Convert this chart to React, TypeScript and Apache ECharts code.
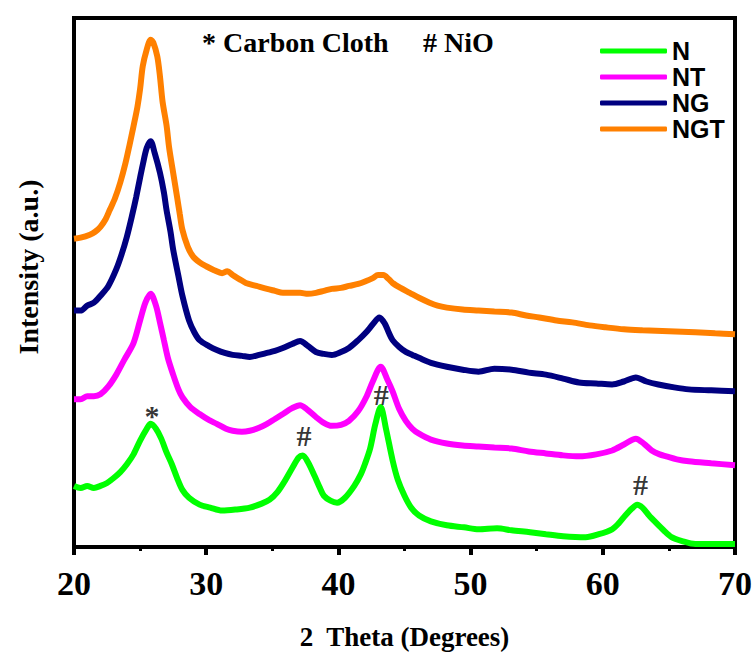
import React, { useEffect, useRef } from "react";
import * as echarts from "echarts";

const seriesNames = ["N", "NT", "NG", "NGT"];
const seriesColors = ["#00FF00", "#FF00FF", "#000080", "#FF8000"];

const dataN = [[20.0,62],[20.5,60],[21.0,62],[21.5,60],[22.0,62],[22.5,65],[23.0,70],[23.5,76],[24.0,84],[24.5,94],[25.0,108],[25.5,120],[25.8,125],[26.2,120],[26.6,110],[27.0,96],[27.4,84],[27.8,70],[28.2,58],[28.7,50],[29.5,43],[30.3,40],[31.2,37],[32.2,38],[33.3,40],[34.2,44],[34.8,48],[35.4,56],[35.9,66],[36.5,80],[37.0,91],[37.3,93],[37.7,86],[38.2,72],[38.6,60],[38.9,52],[39.4,47],[39.9,45],[40.5,50],[41.2,62],[41.7,74],[42.0,84],[42.4,100],[42.8,125],[43.2,142],[43.6,120],[44.1,88],[44.5,68],[45.0,52],[45.5,40],[46.1,32],[47.0,26],[48.2,22],[49.5,20],[50.6,18],[52.0,19],[53.1,17],[54.5,15],[55.7,13],[57.0,11],[58.7,10],[59.7,13],[60.7,18],[61.2,24],[61.7,32],[62.2,39],[62.6,43],[63.0,40],[63.5,32],[64.0,25],[64.6,17],[65.2,10],[66.0,6],[67.0,3],[68.5,3],[70.0,3]];

const dataNT = [[20.0,150],[20.5,150],[21.0,153],[21.5,153],[22.0,155],[22.6,163],[23.2,175],[23.8,190],[24.5,207],[25.0,230],[25.4,248],[25.8,257],[26.2,245],[26.5,228],[26.8,210],[27.1,192],[27.5,175],[27.9,160],[28.2,152],[28.8,142],[29.5,135],[30.2,129],[30.8,125],[31.5,120],[32.0,118],[32.7,117],[33.3,118],[34.0,121],[34.6,125],[35.2,130],[35.8,135],[36.5,141],[37.1,144],[37.6,140],[38.3,132],[38.9,126],[39.5,123],[40.2,124],[40.8,128],[41.5,138],[42.1,152],[42.6,168],[43.2,183],[43.7,170],[44.1,158],[44.6,140],[45.1,128],[45.6,120],[46.1,115],[47.0,109],[48.2,105],[49.4,103],[50.6,102],[51.8,101],[53.1,100],[54.4,97],[55.7,95],[57.0,93],[58.2,92],[59.5,94],[60.7,98],[61.6,104],[62.5,110],[63.1,105],[63.7,98],[64.3,94],[64.8,92],[65.6,89],[66.5,87],[68.2,85],[70.0,83]];

const dataNG = [[20.0,240],[20.5,240],[21.0,245],[21.5,248],[22.0,255],[22.6,265],[23.2,282],[23.6,297],[24.0,315],[24.4,337],[24.7,355],[25.0,375],[25.2,388],[25.5,405],[25.8,412],[26.1,400],[26.5,380],[26.8,360],[27.0,342],[27.3,320],[27.5,302],[27.9,275],[28.2,255],[28.7,230],[29.1,218],[29.5,210],[30.2,204],[30.8,200],[31.4,197],[32.0,195],[32.7,194],[33.3,193],[34.0,195],[34.6,197],[35.2,199],[35.8,202],[36.5,206],[37.1,209],[37.7,204],[38.3,198],[38.9,196],[39.5,195],[40.2,198],[40.8,202],[41.5,210],[42.1,218],[42.6,226],[43.1,233],[43.5,227],[43.8,218],[44.1,210],[44.6,203],[45.1,198],[45.6,195],[46.1,192],[47.0,187],[48.2,183],[49.4,180],[50.6,178],[51.8,181],[53.1,180],[54.4,177],[55.7,175],[57.0,171],[58.2,167],[59.5,166],[60.7,165],[61.6,168],[62.5,172],[63.3,168],[64.2,165],[65.4,162],[66.5,160],[68.2,159],[70.0,158]];

const dataNGT = [[20.0,313],[20.5,314],[21.2,317],[21.6,320],[22.0,325],[22.4,333],[22.7,342],[23.1,354],[23.5,370],[23.9,390],[24.2,408],[24.5,427],[24.8,447],[25.0,465],[25.2,488],[25.5,505],[25.8,515],[26.0,512],[26.3,498],[26.5,478],[26.7,452],[27.0,428],[27.2,405],[27.5,380],[27.8,355],[28.0,338],[28.2,322],[28.6,305],[29.0,295],[29.5,289],[30.0,285],[30.6,281],[31.2,278],[31.6,280],[32.0,276],[32.5,272],[33.0,268],[33.8,265],[34.6,262],[35.2,260],[35.8,258],[36.5,258],[37.1,258],[37.7,257],[38.3,258],[38.9,260],[39.5,262],[40.2,263],[40.8,265],[41.5,267],[42.1,270],[42.6,273],[43.0,276],[43.4,276],[43.8,272],[44.1,268],[44.7,263],[45.4,258],[46.1,253],[46.9,248],[47.5,245],[48.2,243],[49.4,241],[50.6,240],[51.8,239],[53.1,238],[54.2,235],[55.2,233],[56.5,230],[57.7,228],[59.0,225],[60.2,223],[61.6,221],[63.0,220],[65.0,219],[67.0,218],[68.5,217],[70.0,216]];

const peakMarks = [
  { name: "*", value: [25.9, 133] },
  { name: "#", value: [37.4, 113] },
  { name: "#", value: [43.25, 155] },
  { name: "#", value: [62.85, 63] },
];

const xTicks = { min: 20, max: 70, interval: 10 };
const yRange = { min: 0, max: 537 };

const SERIF = "Liberation Serif";
const SANS = "Liberation Sans";

export default function App() {
  const ref = useRef<HTMLDivElement>(null);
  useEffect(() => {
    document.body.style.margin = "0";
    const chart = echarts.init(ref.current!, null, { renderer: "svg" });
    const allData = [dataN, dataNT, dataNG, dataNGT];
    chart.setOption({
      animation: false,
      backgroundColor: "#ffffff",
      grid: {
        left: 74,
        right: 18,
        top: 18,
        bottom: 100,
        show: true,
        borderColor: "#000",
        borderWidth: 4,
        backgroundColor: "transparent",
      },
      legend: {
        data: seriesNames,
        orient: "vertical",
        left: 595,
        top: 33,
        itemWidth: 67,
        itemHeight: 5,
        itemGap: 0,
        icon: "roundRect",
        textStyle: {
          fontFamily: SANS,
          fontWeight: "bold",
          fontSize: 25,
          color: "#000",
          lineHeight: 26,
        },
      },
      xAxis: {
        type: "value",
        min: xTicks.min,
        max: xTicks.max,
        interval: xTicks.interval,
        name: "2  Theta (Degrees)",
        nameLocation: "middle",
        nameGap: 76,
        nameTextStyle: { fontFamily: SERIF, fontWeight: "bold", fontSize: 27, color: "#000" },
        axisLine: { show: true, lineStyle: { color: "#000", width: 4 } },
        axisTick: { show: true, inside: false, length: 8, lineStyle: { color: "#000", width: 4 } },
        minorTick: { show: true, splitNumber: 2, length: 4, lineStyle: { color: "#000", width: 3 } },
        axisLabel: { fontFamily: SERIF, fontWeight: "bold", fontSize: 34, color: "#000", margin: 19 },
        splitLine: { show: false },
        minorSplitLine: { show: false },
      },
      yAxis: {
        type: "value",
        min: yRange.min,
        max: yRange.max,
        axisLine: { show: true, lineStyle: { color: "#000", width: 4 } },
        axisTick: { show: false },
        axisLabel: { show: false },
        splitLine: { show: false },
      },
      series: [
        ...seriesNames.map((n, i) => ({
          name: n,
          type: "line",
          data: allData[i],
          showSymbol: false,
          symbol: "none",
          smooth: 0.3,
          color: seriesColors[i],
          lineStyle: { width: 6, color: seriesColors[i] },
          z: 2 + i,
        })),
        {
          name: "marks",
          type: "scatter",
          data: peakMarks,
          symbolSize: 0,
          silent: true,
          z: 10,
          label: {
            show: true,
            position: "inside",
            formatter: (p: any) => p.name,
            fontFamily: SERIF,
            fontWeight: "bold",
            fontSize: 30,
            color: "#000",
          },
        },
      ],
      graphic: [
        {
          type: "text",
          left: 202,
          top: 28,
          style: { text: "* Carbon Cloth", fontFamily: SERIF, fontWeight: "bold", fontSize: 28, fill: "#000" },
        },
        {
          type: "text",
          left: 423,
          top: 28,
          style: { text: "# NiO", fontFamily: SERIF, fontWeight: "bold", fontSize: 28, fill: "#000" },
        },
        {
          type: "text",
          x: 28,
          y: 267,
          rotation: Math.PI / 2,
          style: {
            text: "Intensity (a.u.)",
            fontFamily: SERIF,
            fontWeight: "bold",
            fontSize: 28,
            fill: "#000",
            align: "center",
            verticalAlign: "middle",
          },
        },
      ],
    });
    return () => chart.dispose();
  }, []);
  return <div ref={ref} style={{ width: 755, height: 655, position: "absolute", left: 0, top: 0 }} />;
}
